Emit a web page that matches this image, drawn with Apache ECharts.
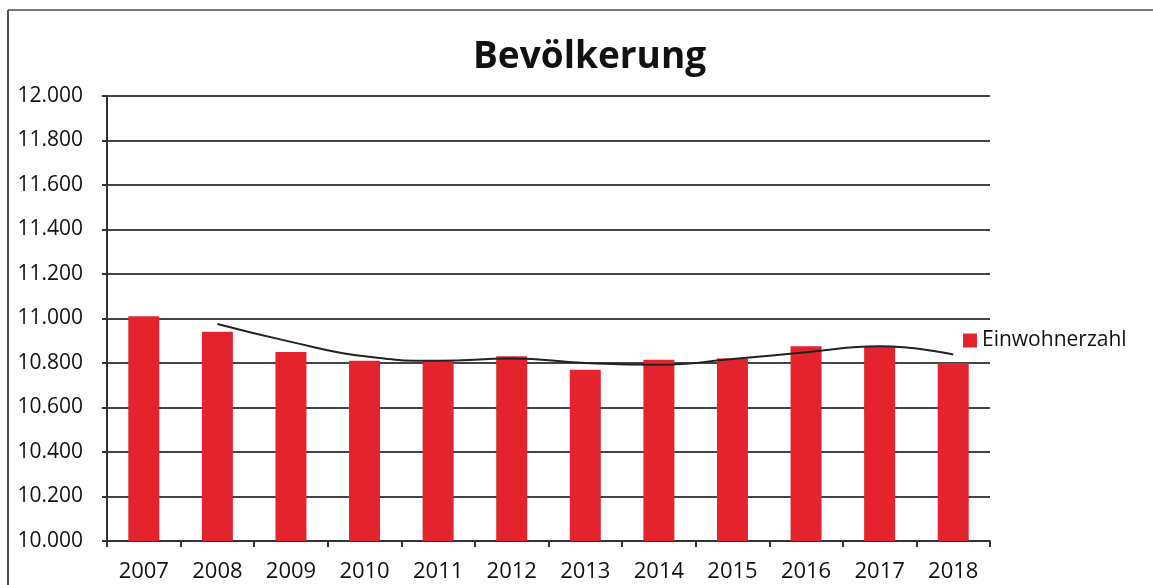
<!DOCTYPE html>
<html>
<head>
<meta charset="utf-8">
<script src="https://cdn.jsdelivr.net/npm/echarts@6/dist/echarts.min.js"></script>
<style>
  html, body { margin: 0; padding: 0; background: #fff; }
  #chart { width: 1153px; height: 585px; }
</style>
</head>
<body>
<div id="chart"></div>
<script>
const years = ['2007', '2008', '2009', '2010', '2011', '2012', '2013', '2014', '2015', '2016', '2017', '2018'];
const einwohner = [11010, 10940, 10850, 10810, 10810, 10830, 10770, 10815, 10820, 10875, 10875, 10800];
// trend line (starts at 2008)
const trend = [null, 10975, 10895, 10830, 10810, 10820, 10800, 10792, 10818, 10848, 10875, 10838];

const chart = echarts.init(document.getElementById('chart'));
const font = '"Open Sans", "Noto Sans", sans-serif';

chart.setOption({
  animation: false,
  backgroundColor: '#fff',
  textStyle: { fontFamily: font },
  title: {
    text: 'Bevölkerung',
    left: 468,
    top: 34,
    textStyle: { fontSize: 37, fontWeight: 'bold', color: '#111', fontFamily: font }
  },
  graphic: [
    { type: 'line', shape: { x1: 8, y1: 10, x2: 1153, y2: 10 }, style: { stroke: '#777', lineWidth: 2 } },
    { type: 'line', shape: { x1: 8, y1: 10, x2: 8, y2: 585 }, style: { stroke: '#555', lineWidth: 2 } }
  ],
  legend: {
    data: [{ name: 'Einwohnerzahl', icon: 'rect' }],
    left: 958,
    top: 325,
    itemWidth: 14,
    itemHeight: 14,
    itemGap: 6,
    textStyle: { fontSize: 21, color: '#111', fontFamily: font }
  },
  grid: { left: 107, right: 163, top: 96, bottom: 44 },
  xAxis: {
    type: 'category',
    data: years,
    axisLine: { lineStyle: { color: '#333', width: 2 } },
    axisTick: { show: true, length: 6, lineStyle: { color: '#333', width: 2 } },
    axisLabel: { fontSize: 22, color: '#111', margin: 20 }
  },
  yAxis: {
    type: 'value',
    min: 10000,
    max: 12000,
    interval: 200,
    axisLine: { show: true, lineStyle: { color: '#333', width: 2 } },
    axisTick: { show: true, length: 5, lineStyle: { color: '#333', width: 2 } },
    axisLabel: {
      fontSize: 21,
      color: '#111',
      margin: 24,
      formatter: v => v.toLocaleString('de-DE', { minimumFractionDigits: 0 })
    },
    splitLine: { lineStyle: { color: '#444', width: 2 } }
  },
  series: [
    {
      name: 'Einwohnerzahl',
      type: 'bar',
      data: einwohner,
      barWidth: 31,
      itemStyle: { color: '#e3242f' }
    },
    {
      name: 'Trend',
      type: 'line',
      data: trend,
      smooth: true,
      showSymbol: false,
      connectNulls: false,
      lineStyle: { color: '#222', width: 2 },
      z: 5
    }
  ]
});
</script>
</body>
</html>
